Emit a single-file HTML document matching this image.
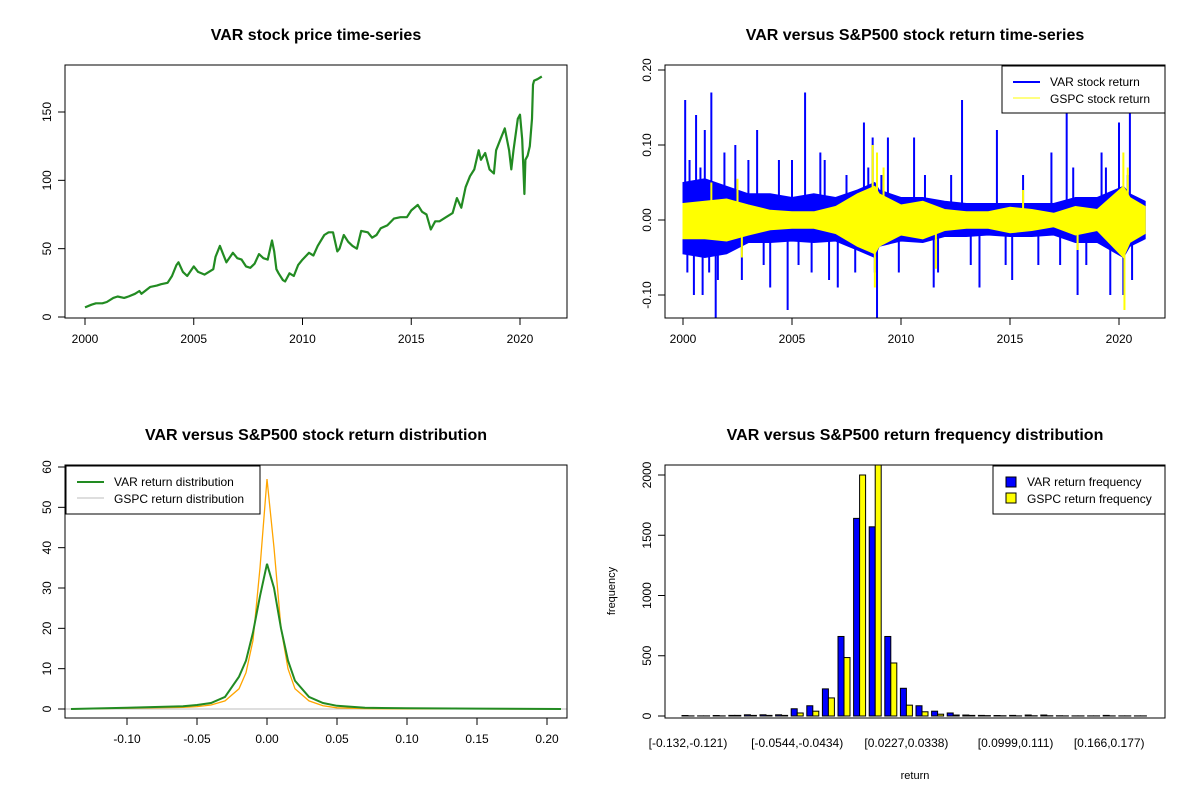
<!DOCTYPE html>
<html><head><meta charset="utf-8">
<style>
html,body{margin:0;padding:0;background:#fff;}
svg{display:block;font-family:"Liberation Sans",Arial,sans-serif;}
</style></head>
<body>
<svg id="c" width="1200" height="800" viewBox="0 0 1200 800"></svg>
<script>
// ---------- DATA ----------
const priceYears = [2000,2000.3,2000.5,2000.8,2001,2001.3,2001.5,2001.8,2002,2002.3,2002.5,2002.6,2003,2003.3,2003.5,2003.8,2004,2004.2,2004.3,2004.5,2004.7,2005,2005.2,2005.5,2005.9,2006,2006.2,2006.4,2006.5,2006.8,2007,2007.2,2007.4,2007.6,2007.8,2008,2008.2,2008.4,2008.6,2008.7,2008.8,2008.9,2009.1,2009.2,2009.4,2009.6,2009.8,2010,2010.3,2010.5,2010.7,2011,2011.2,2011.4,2011.6,2011.7,2011.9,2012.1,2012.3,2012.5,2012.7,2013,2013.2,2013.4,2013.6,2013.9,2014.2,2014.5,2014.8,2015,2015.3,2015.5,2015.7,2015.9,2016.1,2016.3,2016.6,2016.9,2017.1,2017.3,2017.5,2017.7,2017.9,2018.1,2018.2,2018.4,2018.6,2018.8,2018.9,2019.1,2019.3,2019.5,2019.6,2019.7,2019.9,2020.0,2020.1,2020.2,2020.25,2020.35,2020.45,2020.55,2020.6,2020.65,2020.8,2021,2021.2];
const priceValues = [7,9,10,10,11,14,15,14,15,17,19,17,22,23,24,25,30,38,40,33,30,37,33,31,35,44,52,44,40,47,43,42,37,36,39,46,43,42,56,48,35,32,27,26,32,30,38,42,47,45,52,60,62,62,48,50,60,55,52,50,63,62,58,60,65,67,72,73,73,78,82,77,75,64,70,70,73,76,87,80,95,103,108,122,115,120,108,105,122,130,138,122,108,122,145,148,130,90,115,118,125,145,170,173,174,176];

const retYears = [2000,2001,2002,2003,2004,2005,2006,2007,2008,2008.8,2009,2010,2011,2012,2013,2014,2015,2016,2017,2018,2019,2020.2,2020.5,2021.2];
const varUpper = [0.05,0.055,0.045,0.035,0.035,0.03,0.035,0.03,0.04,0.05,0.04,0.03,0.03,0.025,0.022,0.022,0.022,0.022,0.022,0.03,0.03,0.045,0.035,0.025];
const varLower = [-0.045,-0.05,-0.045,-0.03,-0.03,-0.028,-0.03,-0.028,-0.04,-0.05,-0.035,-0.028,-0.03,-0.022,-0.022,-0.02,-0.022,-0.022,-0.02,-0.03,-0.03,-0.05,-0.035,-0.025];
const gspcUpper = [0.022,0.025,0.028,0.02,0.013,0.011,0.011,0.018,0.035,0.045,0.035,0.02,0.025,0.014,0.011,0.011,0.017,0.014,0.009,0.018,0.014,0.045,0.03,0.018];
const gspcLower = [-0.025,-0.025,-0.028,-0.02,-0.013,-0.011,-0.011,-0.018,-0.035,-0.045,-0.035,-0.02,-0.025,-0.014,-0.011,-0.011,-0.017,-0.014,-0.009,-0.02,-0.014,-0.05,-0.03,-0.018];
const spikeYears = [2000.1,2000.2,2000.3,2000.5,2000.6,2000.8,2000.9,2001.0,2001.2,2001.3,2001.5,2001.6,2001.9,2002.4,2002.7,2003.0,2003.4,2003.7,2004.0,2004.4,2004.8,2005.0,2005.3,2005.6,2005.9,2006.3,2006.5,2006.7,2007.1,2007.5,2007.9,2008.3,2008.5,2008.7,2008.8,2008.9,2009.1,2009.4,2009.9,2010.6,2011.1,2011.5,2011.7,2012.3,2012.8,2013.2,2013.6,2014.4,2014.8,2015.1,2015.6,2016.3,2016.9,2017.3,2017.6,2017.9,2018.1,2018.5,2019.2,2019.4,2019.6,2020.0,2020.2,2020.4,2020.5,2020.6];
const spikeValues = [0.16,-0.07,0.08,-0.1,0.14,0.07,-0.1,0.12,-0.07,0.17,-0.13,-0.08,0.09,0.1,-0.08,0.08,0.12,-0.06,-0.09,0.08,-0.12,0.08,-0.06,0.17,-0.07,0.09,0.08,-0.08,-0.09,0.06,-0.07,0.13,0.07,0.11,-0.07,-0.13,0.06,0.11,-0.07,0.11,0.06,-0.09,-0.07,0.06,0.16,-0.06,-0.09,0.12,-0.06,-0.08,0.06,-0.06,0.09,-0.06,0.16,0.07,-0.1,-0.06,0.09,0.07,-0.1,0.13,-0.1,0.06,0.15,-0.08];
const gspcSpikeYears = [2001.3,2002.5,2002.7,2008.7,2008.8,2008.9,2009.2,2011.6,2015.6,2018.1,2020.2,2020.25,2020.4];
const gspcSpikeValues = [0.05,0.055,-0.05,0.1,-0.09,0.09,0.07,-0.065,0.04,-0.04,0.09,-0.12,0.07];

const densX = [-0.14,-0.1,-0.06,-0.05,-0.04,-0.03,-0.02,-0.015,-0.01,-0.005,0,0.005,0.01,0.015,0.02,0.03,0.04,0.05,0.07,0.1,0.15,0.21];
const densVAR = [0,0.3,0.7,1,1.5,3,8,12,19,28,36,30,20,12,7,3,1.5,0.8,0.3,0.2,0.1,0];
const densGSPC = [0,0.2,0.4,0.6,1,2,5,9,17,35,57,40,20,10,5,2,0.8,0.3,0.1,0.05,0.02,0];

const binLabels = ["[-0.132,-0.121)","","","","","","","[-0.0544,-0.0434)","","","","","","","[0.0227,0.0338)","","","","","","","[0.0999,0.111)","","","","","","[0.166,0.177)","",""];
const freqVAR = [4,1,4,5,10,10,10,60,85,225,660,1640,1570,660,230,85,40,25,8,5,4,5,8,8,2,1,1,5,1,1];
const freqGSPC = [1,1,1,5,5,5,5,25,40,150,485,2000,2100,440,90,35,15,8,5,3,2,1,2,2,1,1,1,1,1,1];

// ---------- HELPERS ----------
const svg = document.getElementById('c');
const NS = 'http://www.w3.org/2000/svg';
function mk(tag, attrs, parent){const e=document.createElementNS(NS,tag);for(const k in attrs)e.setAttribute(k,attrs[k]);(parent||svg).appendChild(e);return e;}
function txt(s,x,y,o,parent){const e=mk('text',Object.assign({x:x,y:y,'font-size':12,'text-anchor':'middle',fill:'#000'},o||{}),parent);e.textContent=s;return e;}
function lin(d0,d1,r0,r1){return v=>r0+(v-d0)*(r1-r0)/(d1-d0);}
function box(x0,y0,x1,y1,g){mk('rect',{x:x0,y:y0,width:x1-x0,height:y1-y0,fill:'none',stroke:'#000','stroke-width':1},g);}
function yAxis(g,ticks,labels,sy,x0){
  mk('line',{x1:x0,x2:x0,y1:sy(ticks[0]),y2:sy(ticks[ticks.length-1]),stroke:'#000'},g);
  ticks.forEach((t,i)=>{const y=sy(t);mk('line',{x1:x0,x2:x0-7,y1:y,y2:y,stroke:'#000'},g);
    const l=txt(labels[i],x0-14,y,{transform:`rotate(-90 ${x0-14} ${y})`},g);
    
    });
}
function xAxis(g,ticks,labels,sx,y0){
  mk('line',{x1:sx(ticks[0]),x2:sx(ticks[ticks.length-1]),y1:y0,y2:y0,stroke:'#000'},g);
  ticks.forEach((t,i)=>{const x=sx(t);mk('line',{x1:x,x2:x,y1:y0,y2:y0+7,stroke:'#000'},g);
    const l=txt(labels[i],x,y0+25,{},g);
    
    });
}
function title(s,x,y,g){const t=txt(s,x,y,{'font-size':16,'font-weight':'bold'},g);
  
  }

// ---------- PANEL 1: price ----------
{
const g=mk('g',{});


const sx=lin(2000,2020,85,520), sy=lin(0,150,317,112);
title('VAR stock price time-series',316,40,g);
const pts=priceYears.map((y,i)=>sx(y).toFixed(1)+','+sy(priceValues[i]).toFixed(1)).join(' ');
const p=mk('polyline',{points:pts,fill:'none',stroke:'#228B22','stroke-width':2.2,'stroke-linejoin':'round'},g);


box(65,65,567,318,g);
yAxis(g,[0,50,100,150],['0','50','100','150'],sy,65);
xAxis(g,[2000,2005,2010,2015,2020],['2000','2005','2010','2015','2020'],sx,318);
}

// ---------- PANEL 2: returns ----------
{
const g=mk('g',{});


const sx=lin(2000,2020,683,1119), sy=lin(0,0.2,220,70);
title('VAR versus S&P500 stock return time-series',915,40,g);
function band(up,lo,col,name){
  const a=retYears.map((y,i)=>sx(y).toFixed(1)+','+sy(up[i]).toFixed(1));
  const b=retYears.map((y,i)=>sx(y).toFixed(1)+','+sy(lo[i]).toFixed(1)).reverse();
  const p=mk('polygon',{points:a.concat(b).join(' '),fill:col,stroke:col,'stroke-width':1},g);
  
  
}
band(varUpper,varLower,'#0000FF','var-return-band');
spikeYears.forEach((y,i)=>{const l=mk('line',{x1:sx(y),x2:sx(y),y1:sy(0),y2:sy(spikeValues[i]),stroke:'#0000FF','stroke-width':2},g);
  
  });
band(gspcUpper,gspcLower,'#FFFF00','gspc-return-band');
gspcSpikeYears.forEach((y,i)=>{const l=mk('line',{x1:sx(y),x2:sx(y),y1:sy(0),y2:sy(gspcSpikeValues[i]),stroke:'#FFFF00','stroke-width':2},g);
  
  });
box(665,65,1165,318,g);
yAxis(g,[-0.1,0,0.1,0.2],['-0.10','0.00','0.10','0.20'],sy,665);
xAxis(g,[2000,2005,2010,2015,2020],['2000','2005','2010','2015','2020'],sx,318);
const lg=mk('g',{},g);


mk('rect',{x:1002,y:66,width:163,height:47,fill:'#fff',stroke:'#000'},lg);
mk('line',{x1:1013,x2:1040,y1:82,y2:82,stroke:'#0000FF','stroke-width':2},lg);
mk('line',{x1:1013,x2:1040,y1:98,y2:98,stroke:'#FFFF00','stroke-width':1},lg);
txt('VAR stock return',1050,86,{'text-anchor':'start'},lg);
txt('GSPC stock return',1050,103,{'text-anchor':'start'},lg);
}

// ---------- PANEL 3: density ----------
{
const g=mk('g',{});


const sx=lin(-0.1,0.2,127,547), sy=lin(0,60,709,467);
title('VAR versus S&P500 stock return distribution',316,440,g);
mk('line',{x1:65,x2:567,y1:sy(0),y2:sy(0),stroke:'#BEBEBE'},g);
const p1=mk('polyline',{points:densX.map((x,i)=>sx(x).toFixed(1)+','+sy(densGSPC[i]).toFixed(1)).join(' '),fill:'none',stroke:'#FFA500','stroke-width':1.3},g);


const p2=mk('polyline',{points:densX.map((x,i)=>sx(x).toFixed(1)+','+sy(densVAR[i]).toFixed(1)).join(' '),fill:'none',stroke:'#228B22','stroke-width':2},g);


box(65,465,567,718,g);
yAxis(g,[0,10,20,30,40,50,60],['0','10','20','30','40','50','60'],sy,65);
xAxis(g,[-0.1,-0.05,0,0.05,0.1,0.15,0.2],['-0.10','-0.05','0.00','0.05','0.10','0.15','0.20'],sx,718);
const lg=mk('g',{},g);


mk('rect',{x:66,y:466,width:194,height:48,fill:'#fff',stroke:'#000'},lg);
mk('line',{x1:77,x2:104,y1:482,y2:482,stroke:'#228B22','stroke-width':2},lg);
mk('line',{x1:77,x2:104,y1:498,y2:498,stroke:'#BEBEBE','stroke-width':1},lg);
txt('VAR return distribution',114,486,{'text-anchor':'start'},lg);
txt('GSPC return distribution',114,503,{'text-anchor':'start'},lg);
}

// ---------- PANEL 4: histogram ----------
{
const g=mk('g',{});


const sy=lin(0,2000,716,475);
const gx=i=>688+i*15.6;
title('VAR versus S&P500 return frequency distribution',915,440,g);
const cp=mk('clipPath',{id:'hc'},g);mk('rect',{x:665,y:465,width:500,height:253},cp);
const bg=mk('g',{'clip-path':'url(#hc)'},g);
freqVAR.forEach((v,i)=>{
  const c=gx(i);
  const b1=mk('rect',{x:c-6,y:sy(v),width:6,height:sy(0)-sy(v),fill:'#0000FF',stroke:'#000','stroke-width':1},bg);
  
  
  const w=freqGSPC[i];
  const b2=mk('rect',{x:c,y:sy(w),width:6,height:sy(0)-sy(w),fill:'#FFFF00',stroke:'#000','stroke-width':1},bg);
  
  
  if(binLabels[i]){const l=txt(binLabels[i],c,747,{},g);
    
    }
});
box(665,465,1165,718,g);
yAxis(g,[0,500,1000,1500,2000],['0','500','1000','1500','2000'],sy,665);
const yl=txt('frequency',615,591,{'font-size':11,transform:'rotate(-90 615 591)'},g);


const xl=txt('return',915,779,{'font-size':11},g);


const lg=mk('g',{},g);


mk('rect',{x:993,y:466,width:172,height:48,fill:'#fff',stroke:'#000'},lg);
mk('rect',{x:1006,y:477,width:10,height:10,fill:'#0000FF',stroke:'#000'},lg);
mk('rect',{x:1006,y:493,width:10,height:10,fill:'#FFFF00',stroke:'#000'},lg);
txt('VAR return frequency',1027,486,{'text-anchor':'start'},lg);
txt('GSPC return frequency',1027,503,{'text-anchor':'start'},lg);
}
</script>
</body></html>
